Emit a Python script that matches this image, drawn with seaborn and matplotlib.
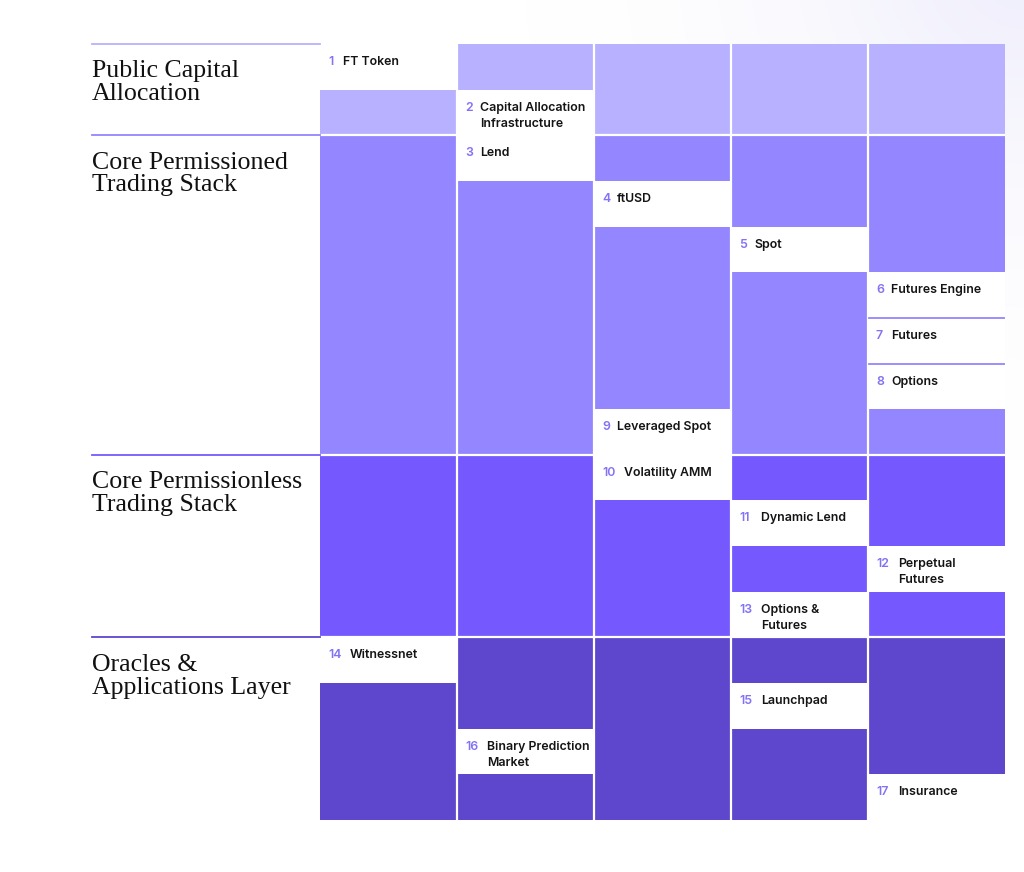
import numpy as np
import seaborn as sns
from matplotlib import pyplot as plt
from matplotlib.colors import ListedColormap

# layers of the stack, top to bottom
layer_names = [
    "Public Capital\nAllocation",
    "Core Permissioned\nTrading Stack",
    "Core Permissionless\nTrading Stack",
    "Oracles &\nApplications Layer",
]
layer_rows = [2, 7, 4, 4]
layer_colors = ["#b8b1ff", "#9486ff", "#7559ff", "#5e47cc"]
n_cols = 5

# modules, one per row, with the column they sit in
modules = [
    "FT Token", "Capital Allocation\nInfrastructure", "Lend", "ftUSD", "Spot",
    "Futures Engine", "Futures", "Options", "Leveraged Spot", "Volatility AMM",
    "Dynamic Lend", "Perpetual\nFutures", "Options &\nFutures", "Witnessnet",
    "Launchpad", "Binary Prediction\nMarket", "Insurance",
]
module_cols = [0, 1, 1, 2, 3, 4, 4, 4, 2, 2, 3, 4, 3, 0, 3, 1, 4]

NUM_COLOR = "#8372f5"
PX = 0.72  # points per pixel at dpi 100


def build_grid():
    """Layer index + 1 for every cell, 0 where a module sits."""
    row_layer = np.repeat(np.arange(len(layer_rows)), layer_rows)
    grid = np.tile(row_layer[:, None] + 1, (1, n_cols))
    for row, col in enumerate(module_cols):
        grid[row, col] = 0
    return grid, row_layer


fig = plt.figure(figsize=(10.24, 8.72), dpi=100)

# faint lavender glow in the top right corner
bg = fig.add_axes([0, 0, 1, 1], zorder=0)
yy, xx = np.mgrid[0:872, 0:1024]
dist = np.hypot(xx - 1024, yy + 40)
w = np.clip(1 - dist / 500, 0, 1) ** 1.8
glow = np.array([238, 237, 252]) / 255
img = 1 - w[..., None] * (1 - glow)
bg.imshow(img, aspect="auto", interpolation="bilinear")
bg.axis("off")

ax = fig.add_axes([320 / 1024, 1 - 820 / 872, 685 / 1024, 776 / 872], zorder=1)
ax.patch.set_alpha(0)

grid, row_layer = build_grid()
cmap = ListedColormap(["white"] + layer_colors)
sns.heatmap(grid, cmap=cmap, vmin=-0.5, vmax=len(layer_colors) + 0.5, cbar=False,
            xticklabels=False, yticklabels=False, linewidths=0, ax=ax)

# white gutters between columns and between layers
for x in range(1, n_cols):
    ax.axvline(x, color="white", lw=1.6)
bounds = np.cumsum(layer_rows)[:-1]
for y in bounds:
    ax.axhline(y, color="white", lw=1.6)

# thin separators between stacked modules inside one layer
for i in range(len(modules) - 1):
    c = module_cols[i]
    if module_cols[i + 1] == c and row_layer[i] == row_layer[i + 1]:
        ax.plot([c + 0.01, c + 1], [i + 1, i + 1], color=layer_colors[row_layer[i]], lw=1.3)

# module labels
for i, (name, c) in enumerate(zip(modules, module_cols)):
    num = str(i + 1)
    ax.annotate(num, xy=(c, i), xytext=(8 * PX, -12 * PX), textcoords="offset points",
                ha="left", va="top", fontsize=8.9, color=NUM_COLOR,
                family="Inter", fontweight="semibold")
    dx = 23 if len(num) == 1 else 30
    ax.annotate(name, xy=(c, i), xytext=(dx * PX, -12 * PX), textcoords="offset points",
                ha="left", va="top", fontsize=8.9, color="#141414", linespacing=1.45,
                family="Inter", fontweight="semibold")

# layer titles with their rule on the left
starts = np.concatenate([[0], bounds])
for name, y0, color in zip(layer_names, starts, layer_colors):
    ax.plot([-228 / 137, 0], [y0, y0], color=color, lw=1.3, clip_on=False)
    ax.annotate(name, xy=(0, y0), xytext=(-228 * PX, -16.5 * PX), textcoords="offset points",
                ha="left", va="top", fontsize=18.6, color="#111111", linespacing=1.04,
                family="Liberation Serif", annotation_clip=False)

for s in ax.spines.values():
    s.set_visible(False)

fig.savefig("out.png", dpi=100)
